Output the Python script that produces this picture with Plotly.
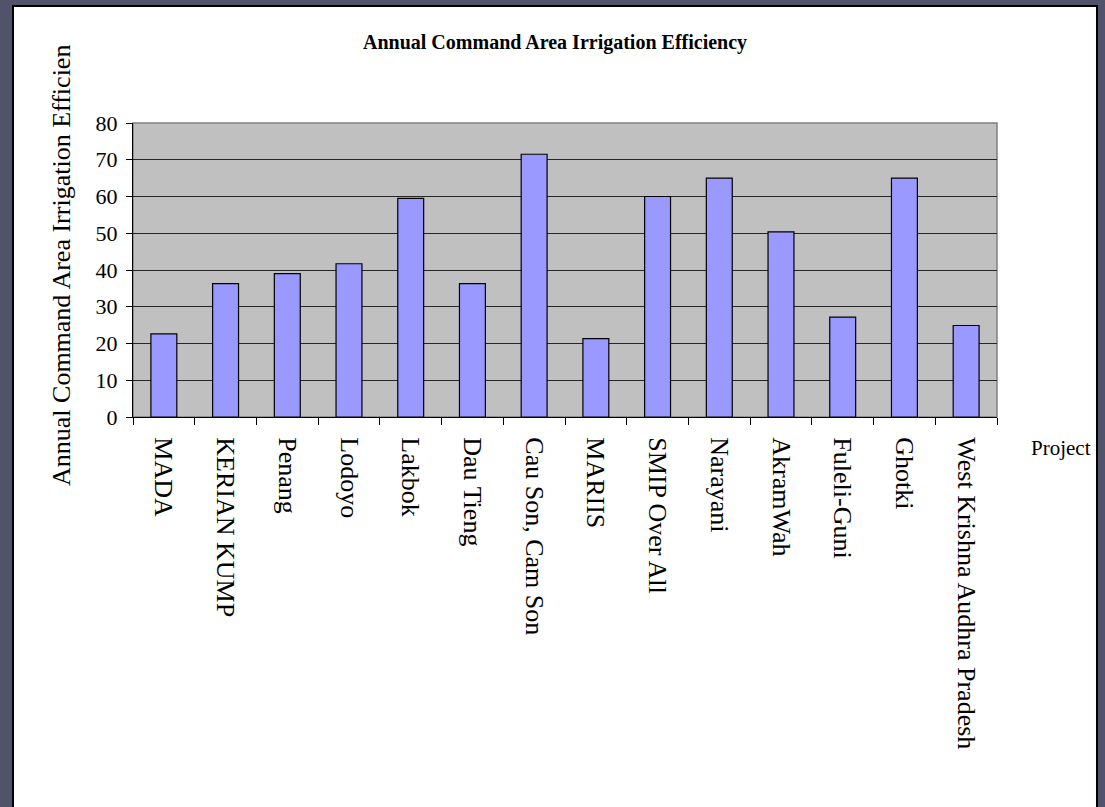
import plotly.graph_objects as go

projects = ["MADA", "KERIAN KUMP", "Penang", "Lodoyo", "Lakbok", "Dau Tieng",
            "Cau Son, Cam Son", "MARIIS", "SMIP Over All", "Narayani", "AkramWah",
            "Fuleli-Guni", "Ghotki", "West Krishna Audhra Pradesh"]
efficiency = [22.6, 36.3, 39.0, 41.7, 59.5, 36.3, 71.5, 21.3, 60.0, 65.0, 50.4,
              27.2, 65.0, 24.9]
y_ticks = [0, 10, 20, 30, 40, 50, 60, 70, 80]

W, H = 1105, 807
L, R, T, B = 133, 997, 123, 417  # plot area in pixels
pw, ph = R - L, B - T


def px(x):
    return (x - L) / pw


def py(y):
    return (B - y) / ph


serif = "Liberation Serif, Times New Roman, serif"

fig = go.Figure()
fig.add_trace(go.Bar(
    x=projects, y=efficiency,
    marker=dict(color="#9999FF", line=dict(color="black", width=1.2)),
    width=0.42,
    hoverinfo="x+y",
))

fig.update_layout(
    width=W, height=H, autosize=False,
    margin=dict(l=L, r=W - R, t=T, b=H - B, pad=0),
    paper_bgcolor="#50536a",
    plot_bgcolor="#C0C0C0",
    showlegend=False,
    font=dict(family=serif, color="black"),
    shapes=[
        dict(type="rect", xref="paper", yref="paper",
             x0=px(13), x1=px(1097), y0=py(830), y1=py(6),
             fillcolor="white", line=dict(color="black", width=2), layer="below"),
        dict(type="rect", xref="paper", yref="paper",
             x0=0, x1=1, y0=0, y1=1,
             fillcolor="#C0C0C0", line=dict(color="#808080", width=1.5), layer="below"),
    ],
    annotations=[
        dict(text="<b>Annual Command Area Irrigation Efficiency</b>",
             xref="paper", yref="paper", x=px(555), y=py(43),
             xanchor="center", yanchor="middle", showarrow=False,
             font=dict(family=serif, size=20, color="black")),
        dict(text="Annual Command Area Irrigation Efficien",
             xref="paper", yref="paper", x=px(61), y=py(266),
             xanchor="center", yanchor="middle", textangle=-90, showarrow=False,
             font=dict(family=serif, size=26, color="black")),
        dict(text="Project",
             xref="paper", yref="paper", x=px(1061), y=py(448),
             xanchor="center", yanchor="middle", showarrow=False,
             font=dict(family=serif, size=21, color="black")),
    ],
)

fig.update_xaxes(
    type="category", range=[-0.5, len(projects) - 0.5],
    tickson="boundaries", ticks="outside", ticklen=7, tickwidth=1, tickcolor="black",
    showline=True, linecolor="black", linewidth=1.2, showgrid=False,
    tickangle=90, tickfont=dict(family=serif, size=26, color="black"),
    ticklabelstandoff=14, zeroline=False,
)
fig.update_yaxes(
    range=[0, 80], tickmode="array", tickvals=y_ticks,
    ticktext=[str(v) for v in y_ticks],
    ticks="outside", ticklen=6, tickwidth=1, tickcolor="black",
    showline=True, linecolor="black", linewidth=1.2,
    showgrid=True, gridcolor="#262626", gridwidth=1,
    zeroline=False, tickfont=dict(family=serif, size=22, color="black"),
    ticklabelstandoff=4,
)

fig.write_html(
    "out.html",
    config={"displayModeBar": False},
    post_script="document.body.style.margin='0';document.body.style.overflow='hidden';",
)
